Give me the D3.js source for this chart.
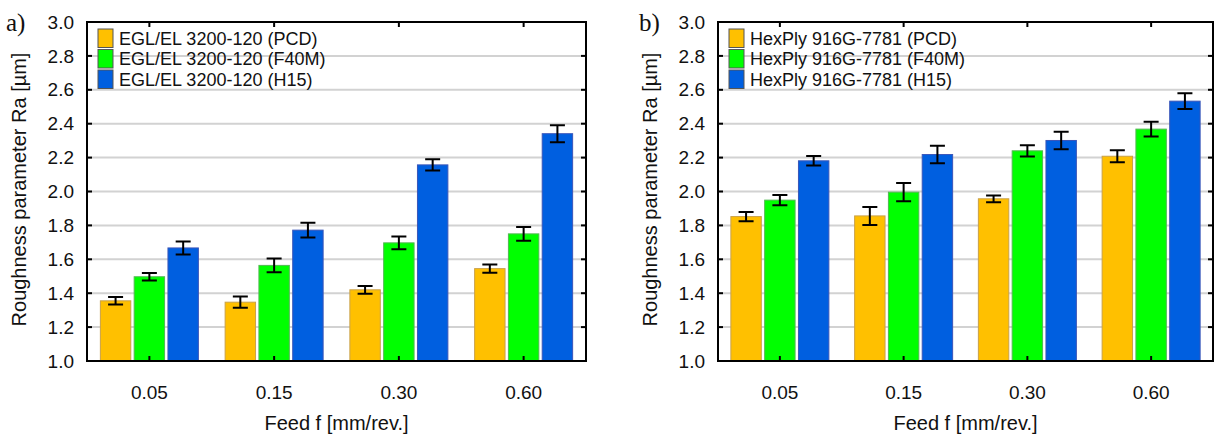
<!DOCTYPE html>
<html>
<head>
<meta charset="utf-8">
<script src="https://cdn.jsdelivr.net/npm/d3@7"></script>
<style>
  body { margin: 0; background: #fff; }
  svg { display: block; font-family: "Liberation Sans", Arial, sans-serif; }
  .grid line { stroke: #d2d2d2; stroke-width: 2; }
  .err { stroke: #000; stroke-width: 2; fill: none; }
  .tick-lbl { font-size: 19px; fill: #111; }
  .title { font-size: 20px; fill: #111; }
  .legend text { font-size: 18px; fill: #111; }
  .panel-tag { font-family: "Liberation Serif", "Times New Roman", serif; font-size: 25px; fill: #111; }
</style>
</head>
<body>
<svg id="chart" width="1217" height="436"></svg>
<script>
// categories
const feeds = ["0.05", "0.15", "0.30", "0.60"];
const yTicks = [1.0, 1.2, 1.4, 1.6, 1.8, 2.0, 2.2, 2.4, 2.6, 2.8, 3.0];

// panel a) EGL/EL 3200-120
const namesA = ["EGL/EL 3200-120 (PCD)", "EGL/EL 3200-120 (F40M)", "EGL/EL 3200-120 (H15)"];
const raA_PCD  = [1.355, 1.347, 1.420, 1.545];
const raA_F40M = [1.497, 1.564, 1.697, 1.750];
const raA_H15  = [1.667, 1.772, 2.157, 2.341];
const errA_PCD  = [0.022, 0.033, 0.023, 0.024];
const errA_F40M = [0.022, 0.040, 0.038, 0.040];
const errA_H15  = [0.038, 0.044, 0.033, 0.050];

// panel b) HexPly 916G-7781
const namesB = ["HexPly 916G-7781 (PCD)", "HexPly 916G-7781 (F40M)", "HexPly 916G-7781 (H15)"];
const raB_PCD  = [1.852, 1.856, 1.957, 2.208];
const raB_F40M = [1.949, 1.996, 2.240, 2.368];
const raB_H15  = [2.181, 2.218, 2.301, 2.533];
const errB_PCD  = [0.027, 0.053, 0.020, 0.036];
const errB_F40M = [0.030, 0.054, 0.033, 0.043];
const errB_H15  = [0.028, 0.052, 0.051, 0.046];

const fills   = ["#ffc000", "#00ff00", "#005fe0"];
const strokes = ["#c9a14a", "#52b852", "#3a55b8"];

const svg = d3.select("#chart");

function drawPanel(opt) {
  const { left, right, top, bottom, tag, tagX, names, values, errors, titleX } = opt;
  const g = svg.append("g");

  const x0 = d3.scaleBand().domain(feeds).range([left, right]);
  const x1 = d3.scaleBand().domain([0, 1, 2]).range([-49, 49]).paddingInner(0.1);
  const y = d3.scaleLinear().domain([1.0, 3.0]).range([bottom, top]);

  // grid
  g.append("g").attr("class", "grid")
    .selectAll("line").data(yTicks.slice(1, -1)).enter().append("line")
    .attr("x1", left).attr("x2", right)
    .attr("y1", d => y(d)).attr("y2", d => y(d));

  // bars
  const rows = feeds.map((f, i) => values.map((v, s) => ({ f, s, v: v[i], e: errors[s][i] })));
  const grp = g.selectAll(".grp").data(rows).enter().append("g")
    .attr("transform", d => `translate(${x0(d[0].f) + x0.bandwidth() / 2},0)`);

  grp.selectAll("rect").data(d => d).enter().append("rect")
    .attr("x", d => x1(d.s))
    .attr("y", d => y(d.v))
    .attr("width", x1.bandwidth())
    .attr("height", d => y(1.0) - y(d.v))
    .attr("fill", d => fills[d.s])
    .attr("stroke", d => strokes[d.s])
    .attr("stroke-width", 1);

  // error bars
  const eb = grp.selectAll(".eb").data(d => d).enter().append("path")
    .attr("class", "err")
    .attr("d", d => {
      const cx = x1(d.s) + x1.bandwidth() / 2, w = 7.5;
      const y1 = y(d.v + d.e), y2 = y(d.v - d.e);
      return `M${cx - w},${y1}H${cx + w}M${cx},${y1}V${y2}M${cx - w},${y2}H${cx + w}`;
    });

  // frame
  g.append("rect")
    .attr("x", left).attr("y", top)
    .attr("width", right - left).attr("height", bottom - top)
    .attr("fill", "none").attr("stroke", "#000").attr("stroke-width", 2);

  // inward ticks
  const tk = g.append("g").attr("stroke", "#000").attr("stroke-width", 2);
  yTicks.slice(1, -1).forEach(t => {
    tk.append("line").attr("x1", left).attr("x2", left + 5).attr("y1", y(t)).attr("y2", y(t));
    tk.append("line").attr("x1", right - 5).attr("x2", right).attr("y1", y(t)).attr("y2", y(t));
  });
  feeds.forEach(f => {
    const cx = x0(f) + x0.bandwidth() / 2;
    tk.append("line").attr("x1", cx).attr("x2", cx).attr("y1", bottom).attr("y2", bottom - 5);
    tk.append("line").attr("x1", cx).attr("x2", cx).attr("y1", top).attr("y2", top + 5);
  });

  // y labels
  g.selectAll(".ylbl").data(yTicks).enter().append("text")
    .attr("class", "tick-lbl")
    .attr("x", left - 13).attr("y", d => y(d)).attr("dy", "0.35em")
    .attr("text-anchor", "end")
    .text(d3.format(".1f"));

  // x labels
  g.selectAll(".xlbl").data(feeds).enter().append("text")
    .attr("class", "tick-lbl")
    .attr("x", d => x0(d) + x0.bandwidth() / 2).attr("y", 399)
    .attr("text-anchor", "middle")
    .text(d => d);

  // axis titles
  g.append("text").attr("class", "title")
    .attr("x", (left + right) / 2).attr("y", 430)
    .attr("text-anchor", "middle")
    .text("Feed f [mm/rev.]");
  g.append("text").attr("class", "title")
    .attr("transform", `translate(${titleX},${(top + bottom) / 2 - 2}) rotate(-90)`)
    .attr("text-anchor", "middle")
    .text("Roughness parameter Ra [\u00b5m]");

  // panel tag
  g.append("text").attr("class", "panel-tag")
    .attr("x", tagX).attr("y", 31).text(tag);

  // legend
  const lg = g.append("g").attr("class", "legend")
    .attr("transform", `translate(${left + 11},29)`);
  const item = lg.selectAll("g").data(names).enter().append("g")
    .attr("transform", (d, i) => `translate(0,${i * 20.5})`);
  item.append("rect")
    .attr("width", 15).attr("height", 18.5)
    .attr("fill", (d, i) => fills[i])
    .attr("stroke", "#555").attr("stroke-width", 1);
  item.append("text")
    .attr("x", 21).attr("y", 9.5).attr("dy", "0.35em")
    .text(d => d);
}

drawPanel({
  left: 87, right: 586, top: 22, bottom: 361, tag: "a)", tagX: 6, titleX: 26,
  names: namesA,
  values: [raA_PCD, raA_F40M, raA_H15],
  errors: [errA_PCD, errA_F40M, errA_H15]
});

drawPanel({
  left: 718, right: 1213, top: 22, bottom: 361, tag: "b)", tagX: 639, titleX: 657,
  names: namesB,
  values: [raB_PCD, raB_F40M, raB_H15],
  errors: [errB_PCD, errB_F40M, errB_H15]
});
</script>
</body>
</html>
